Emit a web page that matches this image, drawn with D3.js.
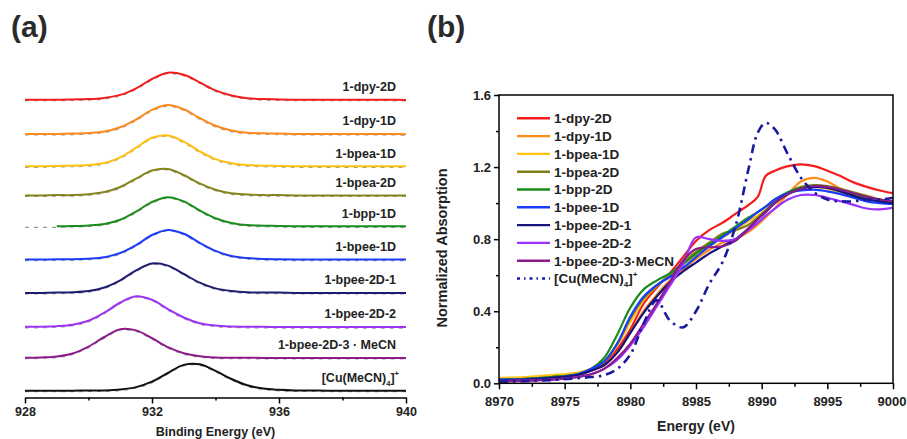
<!DOCTYPE html>
<html>
<head>
<meta charset="utf-8">
<script src="https://cdn.jsdelivr.net/npm/d3@7"></script>
<style>
    body { margin: 0; background: #fff; }
    svg { display: block; font-family: "Liberation Sans", Arial, sans-serif; font-weight: bold; }
</style>
</head>
<body>
<div id="chart"></div>
<script>
// ---- (a) Cu 2p3/2 XPS, stacked traces ----
const xpsEnergy = [928, 928.5, 929, 929.5, 930, 930.5, 931, 931.5, 932, 932.5, 933, 933.5, 934,
    934.5, 935, 935.5, 936, 936.5, 937, 937.5, 938, 938.5, 939, 939.5, 940];

const xpsDpy2D = [0.01, 0.01, 0.01, 0.02, 0.03, 0.07, 0.17, 0.39, 0.70, 0.91, 0.84, 0.59, 0.32,
    0.15, 0.06, 0.03, 0.02, 0.01, 0.01, 0.01, 0.01, 0.01, 0.01, 0.01, 0.00];
const xpsDpy1D = [0.01, 0.01, 0.01, 0.02, 0.04, 0.09, 0.23, 0.49, 0.81, 0.97, 0.83, 0.54, 0.28,
    0.12, 0.05, 0.03, 0.02, 0.01, 0.01, 0.01, 0.01, 0.01, 0.01, 0.01, 0.00];
const xpsBpea1D = [0.01, 0.01, 0.02, 0.03, 0.05, 0.12, 0.31, 0.63, 0.96, 1.04, 0.83, 0.51, 0.25,
    0.11, 0.05, 0.03, 0.02, 0.01, 0.01, 0.01, 0.01, 0.01, 0.01, 0.01, 0.01];
const xpsBpea2D = [0.01, 0.01, 0.02, 0.02, 0.05, 0.12, 0.29, 0.57, 0.84, 0.89, 0.69, 0.41, 0.20,
    0.08, 0.04, 0.02, 0.02, 0.01, 0.01, 0.01, 0.01, 0.01, 0.01, 0.01, 0.01];
const xpsBpp1D = [0.01, 0.01, 0.01, 0.02, 0.04, 0.09, 0.23, 0.50, 0.82, 0.98, 0.84, 0.54, 0.28,
    0.12, 0.05, 0.03, 0.02, 0.01, 0.01, 0.01, 0.01, 0.01, 0.01, 0.01, 0.01];
const xpsBpee1D = [0.01, 0.01, 0.02, 0.02, 0.04, 0.09, 0.23, 0.49, 0.83, 1.00, 0.87, 0.57, 0.30,
    0.13, 0.06, 0.03, 0.02, 0.01, 0.01, 0.01, 0.01, 0.01, 0.01, 0.01, 0.01];
const xpsBpee2D1 = [0.01, 0.01, 0.02, 0.03, 0.07, 0.19, 0.43, 0.76, 0.99, 0.92, 0.64, 0.35, 0.16,
    0.07, 0.03, 0.02, 0.02, 0.01, 0.01, 0.01, 0.01, 0.01, 0.01, 0.01, 0.01];
const xpsBpee2D2 = [0.02, 0.02, 0.04, 0.09, 0.22, 0.49, 0.83, 1.04, 0.92, 0.61, 0.33, 0.14, 0.06,
    0.03, 0.02, 0.02, 0.01, 0.01, 0.01, 0.01, 0.01, 0.01, 0.01, 0.01, 0.01];
const xpsBpee2D3 = [0.02, 0.03, 0.06, 0.16, 0.39, 0.71, 0.97, 0.93, 0.67, 0.37, 0.17, 0.07, 0.03,
    0.02, 0.02, 0.01, 0.01, 0.01, 0.01, 0.01, 0.01, 0.01, 0.01, 0.01, 0.01];
const xpsCu = [0.01, 0.01, 0.01, 0.01, 0.02, 0.02, 0.05, 0.13, 0.31, 0.60, 0.87, 0.89, 0.67,
    0.40, 0.19, 0.08, 0.04, 0.02, 0.02, 0.01, 0.01, 0.01, 0.01, 0.01, 0.01];

const xpsSeries = [xpsDpy2D, xpsDpy1D, xpsBpea1D, xpsBpea2D, xpsBpp1D, xpsBpee1D,
    xpsBpee2D1, xpsBpee2D2, xpsBpee2D3, xpsCu];
const xpsNames = ['1-dpy-2D', '1-dpy-1D', '1-bpea-1D', '1-bpea-2D', '1-bpp-1D', '1-bpee-1D',
    '1-bpee-2D-1', '1-bpee-2D-2', '1-bpee-2D-3 \u00b7 MeCN', 'CU'];
// vertical stacking offset of each trace (a.u.)
const xpsOffset = [9.70, 8.56, 7.48, 6.51, 5.48, 4.37, 3.26, 2.12, 1.09, 0];
// the fitted line of 1-bpp-1D starts later than the raw data
const xpsFitFrom = [928, 928, 928, 928, 929, 928, 928, 928, 928, 928];
const xpsColors = ['#f21d1d', '#ff8a1c', '#ffc10e', '#85851a', '#1c8c1c', '#1d3cf5',
    '#1c1c72', '#9d34f5', '#8c1c8c', '#111111'];
const xpsTicks = [928, 932, 936, 940];
const xpsMinorTicks = [930, 934, 938];

// ---- (b) Cu K-edge XANES ----
const xanesEnergy = [8970, 8972, 8974, 8976, 8977, 8978, 8979, 8980, 8981, 8982, 8983, 8984,
    8985, 8986, 8987, 8988, 8989, 8989.7, 8990.3, 8991, 8992, 8993, 8994, 8995, 8996, 8997,
    8998, 8999, 9000];

const xanesDpy2D = [0.02, 0.025, 0.035, 0.05, 0.07, 0.11, 0.19, 0.30, 0.44, 0.53, 0.61, 0.70,
    0.79, 0.85, 0.89, 0.94, 0.99, 1.035, 1.15, 1.18, 1.205, 1.215, 1.205, 1.18, 1.15, 1.115,
    1.09, 1.07, 1.055];
const xanesDpy1D = [0.02, 0.025, 0.035, 0.05, 0.07, 0.10, 0.17, 0.28, 0.40, 0.49, 0.57, 0.63,
    0.69, 0.74, 0.78, 0.80, 0.84, 0.88, 0.92, 0.97, 1.05, 1.12, 1.14, 1.12, 1.08, 1.05, 1.03,
    1.02, 1.01];
const xanesBpea1D = [0.03, 0.035, 0.045, 0.06, 0.08, 0.12, 0.21, 0.34, 0.46, 0.54, 0.60, 0.66,
    0.71, 0.76, 0.81, 0.85, 0.90, 0.93, 0.96, 1.00, 1.05, 1.08, 1.09, 1.08, 1.06, 1.04, 1.02,
    1.01, 1.00];
const xanesBpea2D = [0.02, 0.025, 0.035, 0.05, 0.075, 0.12, 0.22, 0.36, 0.47, 0.54, 0.60, 0.67,
    0.73, 0.78, 0.83, 0.85, 0.88, 0.92, 0.96, 1.01, 1.06, 1.09, 1.10, 1.095, 1.08, 1.06, 1.04,
    1.02, 1.01];
const xanesBpp2D = [0.02, 0.025, 0.035, 0.05, 0.08, 0.14, 0.27, 0.42, 0.52, 0.57, 0.61, 0.66,
    0.72, 0.77, 0.82, 0.87, 0.92, 0.95, 0.98, 1.02, 1.06, 1.085, 1.095, 1.09, 1.07, 1.05, 1.03,
    1.02, 1.01];
const xanesBpee1D = [0.02, 0.022, 0.03, 0.05, 0.08, 0.12, 0.22, 0.37, 0.48, 0.545, 0.59, 0.64,
    0.70, 0.76, 0.81, 0.86, 0.91, 0.95, 0.98, 1.02, 1.055, 1.07, 1.075, 1.065, 1.05, 1.03, 1.01,
    1.00, 0.995];
const xanesBpee2D1 = [0.015, 0.02, 0.03, 0.045, 0.07, 0.10, 0.17, 0.28, 0.39, 0.48, 0.56, 0.62,
    0.67, 0.72, 0.76, 0.80, 0.86, 0.91, 0.95, 1.00, 1.05, 1.08, 1.09, 1.085, 1.065, 1.04, 1.02,
    1.01, 1.00];
const xanesBpee2D2 = [0.01, 0.015, 0.02, 0.035, 0.05, 0.08, 0.13, 0.21, 0.31, 0.425, 0.54, 0.66,
    0.81, 0.80, 0.79, 0.80, 0.85, 0.89, 0.93, 0.97, 1.02, 1.045, 1.045, 1.03, 1.01, 0.99, 0.97,
    0.965, 0.975];
const xanesBpee2D3 = [0.01, 0.015, 0.02, 0.035, 0.05, 0.08, 0.14, 0.22, 0.33, 0.44, 0.56, 0.68,
    0.745, 0.755, 0.76, 0.79, 0.86, 0.91, 0.95, 1.00, 1.05, 1.08, 1.095, 1.09, 1.075, 1.055,
    1.035, 1.02, 1.01];
const xanesCu = [0.01, 0.012, 0.018, 0.028, 0.035, 0.045, 0.08, 0.16, 0.33, 0.46, 0.35, 0.31,
    0.40, 0.55, 0.67, 0.87, 1.19, 1.39, 1.445, 1.41, 1.27, 1.14, 1.06, 1.02, 1.01, 1.01, 1.02,
    1.02, 1.03];

const xanesSeries = [xanesDpy2D, xanesDpy1D, xanesBpea1D, xanesBpea2D, xanesBpp2D, xanesBpee1D,
    xanesBpee2D1, xanesBpee2D2, xanesBpee2D3, xanesCu];
const xanesNames = ['1-dpy-2D', '1-dpy-1D', '1-bpea-1D', '1-bpea-2D', '1-bpp-2D', '1-bpee-1D',
    '1-bpee-2D-1', '1-bpee-2D-2', '1-bpee-2D-3\u00b7MeCN', 'CU'];
const xanesColors = ['#f51c1c', '#ff8c1a', '#ffc10e', '#80801a', '#1a8c1a', '#1a3cff',
    '#14147a', '#9b30ff', '#8b1a8b', '#1a1aa0'];
const xanesXTicks = [8970, 8975, 8980, 8985, 8990, 8995, 9000];
const xanesXMinor = [8972.5, 8977.5, 8982.5, 8987.5, 8992.5, 8997.5];
const xanesYTicks = [0, 0.4, 0.8, 1.2, 1.6];
const xanesYMinor = [0.2, 0.6, 1.0, 1.4];

const width = 907;
const height = 439;
const ink = '#222';

const svg = d3.select('#chart')
    .append('svg')
    .attr('width', width)
    .attr('height', height);

// writes [Cu(MeCN)4]+ with sub/superscript into a text node
function cuLabel(text, size) {
    text.append('tspan').text('[Cu(MeCN)');
    text.append('tspan').attr('font-size', size * 0.6).attr('dy', size * 0.3).text('4');
    text.append('tspan').attr('dy', -size * 0.3).text(']');
    text.append('tspan').attr('font-size', size * 0.6).attr('dy', -size * 0.45).text('+');
}

function styleAxis(g, size) {
    g.attr('font-family', null).attr('font-size', size);
    g.selectAll('.domain').attr('stroke', '#000').attr('stroke-width', 1.5);
    g.selectAll('.tick line').attr('stroke', '#000').attr('stroke-width', 1.5);
    g.selectAll('.tick text').attr('fill', ink);
}

// panel letters
svg.append('text').attr('x', 11).attr('y', 37).attr('font-size', 30).attr('fill', '#2a2a2a').text('(a)');
svg.append('text').attr('x', 427).attr('y', 37).attr('font-size', 30).attr('fill', '#2a2a2a').text('(b)');

// ================= panel (a) =================
const xA = d3.scaleLinear().domain([928, 940]).range([25, 406]);
const yA = d3.scaleLinear().domain([0, 10]).range([391, 91]);
const axisYA = 397.5;

const gA = svg.append('g');

xpsSeries.forEach((values, i) => {
    const pts = xpsEnergy.map((e, j) => [e, values[j] + xpsOffset[i]]);
    const line = d3.line()
        .x(d => xA(d[0]))
        .y(d => yA(d[1]))
        .curve(d3.curveCatmullRom.alpha(0.5));

    // raw data (grey dashes peeking out under the fit)
    gA.append('path')
        .attr('d', line(pts))
        .attr('transform', 'translate(0,1)')
        .attr('fill', 'none')
        .attr('stroke', '#9a9a9a')
        .attr('stroke-width', 1.2)
        .attr('stroke-dasharray', '4,5');

    gA.append('path')
        .attr('d', line(pts.filter(d => d[0] >= xpsFitFrom[i])))
        .attr('fill', 'none')
        .attr('stroke', xpsColors[i])
        .attr('stroke-width', 2);

    const label = gA.append('text')
        .attr('x', 396)
        .attr('y', yA(xpsOffset[i]) - 9)
        .attr('text-anchor', 'end')
        .attr('font-size', 12.5)
        .attr('fill', ink);
    if (xpsNames[i] === 'CU') {
        label.attr('x', 399);
        cuLabel(label, 12.5);
    } else {
        label.text(xpsNames[i]);
    }
});

// x axis
const axA = svg.append('g')
    .attr('transform', `translate(0,${axisYA})`)
    .call(d3.axisBottom(xA).tickValues(xpsTicks).tickSize(6).tickSizeOuter(0).tickPadding(4));
styleAxis(axA, 12.5);
const axAMinor = svg.append('g')
    .attr('transform', `translate(0,${axisYA})`)
    .call(d3.axisBottom(xA).tickValues(xpsMinorTicks).tickSize(3).tickFormat(''));
axAMinor.select('.domain').remove();
styleAxis(axAMinor, 12.5);

svg.append('text')
    .attr('x', (xA.range()[0] + xA.range()[1]) / 2)
    .attr('y', 436)
    .attr('text-anchor', 'middle')
    .attr('font-size', 12.5)
    .attr('fill', ink)
    .text('Binding Energy (eV)');

// ================= panel (b) =================
const margin = { left: 499, right: 893, top: 95, bottom: 383.3 };
const xB = d3.scaleLinear().domain([8970, 9000]).range([margin.left, margin.right]);
const yB = d3.scaleLinear().domain([0, 1.6]).range([margin.bottom, margin.top]);

const gB = svg.append('g');
const clipId = 'clipB';
svg.append('clipPath').attr('id', clipId)
    .append('rect')
    .attr('x', margin.left).attr('y', margin.top)
    .attr('width', margin.right - margin.left)
    .attr('height', margin.bottom - margin.top);

const lineB = d3.line()
    .x(d => xB(d[0]))
    .y(d => yB(d[1]))
    .curve(d3.curveCatmullRom.alpha(0.5));

const isCu = i => xanesNames[i] === 'CU';

xanesSeries.forEach((values, i) => {
    const pts = xanesEnergy.map((e, j) => [e, values[j]]);
    gB.append('path')
        .attr('clip-path', `url(#${clipId})`)
        .attr('d', lineB(pts))
        .attr('fill', 'none')
        .attr('stroke', xanesColors[i])
        .attr('stroke-width', isCu(i) ? 2.6 : 2.2)
        .attr('stroke-dasharray', isCu(i) ? '9,5,2.5,5' : null);
});

// frame
svg.append('rect')
    .attr('x', margin.left)
    .attr('y', margin.top)
    .attr('width', margin.right - margin.left)
    .attr('height', margin.bottom - margin.top)
    .attr('fill', 'none')
    .attr('stroke', '#000')
    .attr('stroke-width', 1.5);

// axes
const axBx = svg.append('g')
    .attr('transform', `translate(0,${margin.bottom})`)
    .call(d3.axisBottom(xB).tickValues(xanesXTicks).tickFormat(d3.format('d'))
        .tickSize(6).tickSizeOuter(0).tickPadding(7));
axBx.select('.domain').remove();
styleAxis(axBx, 13);
// last label would run off the page edge, pull it inside
axBx.selectAll('.tick text')
    .filter(d => d === 9000)
    .attr('text-anchor', 'end')
    .attr('x', 13);
const axBxMinor = svg.append('g')
    .attr('transform', `translate(0,${margin.bottom})`)
    .call(d3.axisBottom(xB).tickValues(xanesXMinor).tickSize(3.5).tickFormat(''));
axBxMinor.select('.domain').remove();
styleAxis(axBxMinor, 13);

const axBy = svg.append('g')
    .attr('transform', `translate(${margin.left},0)`)
    .call(d3.axisLeft(yB).tickValues(xanesYTicks).tickFormat(d3.format('.1f')).tickSize(5).tickSizeOuter(0).tickPadding(3));
axBy.select('.domain').remove();
styleAxis(axBy, 13);
const axByMinor = svg.append('g')
    .attr('transform', `translate(${margin.left},0)`)
    .call(d3.axisLeft(yB).tickValues(xanesYMinor).tickSize(3).tickFormat(''));
axByMinor.select('.domain').remove();
styleAxis(axByMinor, 13);

svg.append('text')
    .attr('x', (margin.left + margin.right) / 2)
    .attr('y', 431)
    .attr('text-anchor', 'middle')
    .attr('font-size', 14)
    .attr('fill', ink)
    .text('Energy (eV)');

svg.append('text')
    .attr('transform', 'translate(447,248) rotate(-90)')
    .attr('text-anchor', 'middle')
    .attr('font-size', 14.5)
    .attr('fill', ink)
    .text('Normalized Absorption');

// legend
const legend = svg.append('g');
xanesNames.forEach((name, i) => {
    const y = 118.3 + i * 17.8;
    legend.append('line')
        .attr('x1', 517).attr('x2', 550)
        .attr('y1', y).attr('y2', y)
        .attr('stroke', xanesColors[i])
        .attr('stroke-width', isCu(i) ? 2.6 : 2.4)
        .attr('stroke-dasharray', isCu(i) ? '3,4,1.5,4' : null);
    const t = legend.append('text')
        .attr('x', 554)
        .attr('y', y + 4.8)
        .attr('font-size', 13.5)
        .attr('fill', ink);
    if (isCu(i)) {
        cuLabel(t, 13.5);
    } else {
        t.text(name);
    }
});
</script>
</body>
</html>
